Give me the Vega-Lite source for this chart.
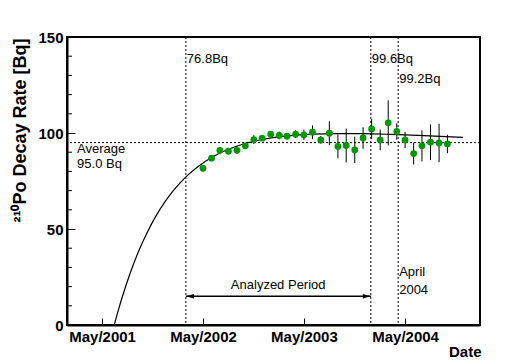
{
  "$schema": "https://vega.github.io/schema/vega-lite/v6.json",
  "width": 413,
  "height": 288,
  "autosize": {"type": "none"},
  "padding": {"left": 67, "top": 37, "right": 40, "bottom": 35},
  "background": "white",
  "config": {
    "view": {"stroke": "black", "strokeWidth": 2},
    "axis": {
      "domainColor": "black", "domainWidth": 2, "tickColor": "black", "tickWidth": 1,
      "labelColor": "black", "titleColor": "black", "grid": false,
      "labelFont": "Liberation Sans", "titleFont": "Liberation Sans",
      "labelFontWeight": "bold", "titleFontWeight": "bold",
      "labelFontSize": 15, "titleFontSize": 15,
      "labelFlush": false, "labelOverlap": false
    }
  },
  "datasets": {
    "points": [
      {"date": "2002-05-01", "rate": 81.6, "lo": 80.1, "hi": 83.1},
      {"date": "2002-06-01", "rate": 86.9, "lo": 85.4, "hi": 88.4},
      {"date": "2002-07-01", "rate": 91.0, "lo": 89.5, "hi": 92.5},
      {"date": "2002-08-01", "rate": 90.5, "lo": 89.0, "hi": 92.0},
      {"date": "2002-09-01", "rate": 91.0, "lo": 89.0, "hi": 93.0},
      {"date": "2002-10-01", "rate": 93.3, "lo": 91.8, "hi": 94.8},
      {"date": "2002-11-01", "rate": 96.6, "lo": 94.3, "hi": 98.9},
      {"date": "2002-12-01", "rate": 97.3, "lo": 95.8, "hi": 98.8},
      {"date": "2003-01-01", "rate": 99.4, "lo": 97.9, "hi": 100.9},
      {"date": "2003-02-01", "rate": 98.7, "lo": 96.7, "hi": 100.7},
      {"date": "2003-03-01", "rate": 98.3, "lo": 96.8, "hi": 99.8},
      {"date": "2003-04-01", "rate": 99.4, "lo": 97.4, "hi": 101.4},
      {"date": "2003-05-01", "rate": 99.0, "lo": 96.3, "hi": 101.7},
      {"date": "2003-06-01", "rate": 100.4, "lo": 96.8, "hi": 104.0},
      {"date": "2003-07-01", "rate": 96.4, "lo": 94.4, "hi": 98.4},
      {"date": "2003-08-01", "rate": 99.9, "lo": 93.7, "hi": 106.1},
      {"date": "2003-09-01", "rate": 93.0, "lo": 86.8, "hi": 99.2},
      {"date": "2003-10-01", "rate": 93.5, "lo": 84.7, "hi": 102.3},
      {"date": "2003-11-01", "rate": 91.2, "lo": 84.3, "hi": 98.1},
      {"date": "2003-12-01", "rate": 97.4, "lo": 91.8, "hi": 103.0},
      {"date": "2004-01-01", "rate": 102.1, "lo": 96.9, "hi": 107.3},
      {"date": "2004-02-01", "rate": 96.4, "lo": 91.0, "hi": 101.8},
      {"date": "2004-03-01", "rate": 105.3, "lo": 93.6, "hi": 117.0},
      {"date": "2004-04-01", "rate": 100.8, "lo": 96.5, "hi": 105.1},
      {"date": "2004-05-01", "rate": 96.4, "lo": 92.2, "hi": 100.6},
      {"date": "2004-06-01", "rate": 89.3, "lo": 83.6, "hi": 95.0},
      {"date": "2004-07-01", "rate": 93.3, "lo": 85.2, "hi": 101.4},
      {"date": "2004-08-01", "rate": 95.2, "lo": 85.9, "hi": 104.5},
      {"date": "2004-09-01", "rate": 94.8, "lo": 84.8, "hi": 104.8},
      {"date": "2004-10-01", "rate": 94.3, "lo": 89.5, "hi": 99.1}
    ],
    "curve": [
      {"date": "2001-06-14", "rate": 0},
      {"date": "2001-06-29", "rate": 7.84},
      {"date": "2001-07-14", "rate": 15.10},
      {"date": "2001-08-13", "rate": 28.01},
      {"date": "2001-09-12", "rate": 39.05},
      {"date": "2001-10-12", "rate": 48.49},
      {"date": "2001-11-11", "rate": 56.56},
      {"date": "2001-12-11", "rate": 63.45},
      {"date": "2002-01-10", "rate": 69.32},
      {"date": "2002-02-09", "rate": 74.32},
      {"date": "2002-03-11", "rate": 78.58},
      {"date": "2002-04-10", "rate": 82.20},
      {"date": "2002-06-09", "rate": 87.88},
      {"date": "2002-08-08", "rate": 91.92},
      {"date": "2002-10-07", "rate": 94.78},
      {"date": "2002-12-06", "rate": 96.75},
      {"date": "2003-02-04", "rate": 98.08},
      {"date": "2003-04-05", "rate": 98.92},
      {"date": "2003-06-04", "rate": 99.43},
      {"date": "2003-08-23", "rate": 99.71},
      {"date": "2003-12-01", "rate": 99.65},
      {"date": "2004-03-10", "rate": 99.30},
      {"date": "2004-06-18", "rate": 98.78},
      {"date": "2004-09-26", "rate": 98.16},
      {"date": "2004-11-26", "rate": 97.76}
    ],
    "vlines": [
      {"date": "2002-02-28"},
      {"date": "2003-12-29"},
      {"date": "2004-04-06"}
    ],
    "minor": [
      {"rate": 10}, {"rate": 20}, {"rate": 30}, {"rate": 40},
      {"rate": 60}, {"rate": 70}, {"rate": 80}, {"rate": 90},
      {"rate": 110}, {"rate": 120}, {"rate": 130}, {"rate": 140}
    ],
    "labels": [
      {"date": "2002-02-28", "rate": 136.4, "text": "76.8Bq"},
      {"date": "2003-12-29", "rate": 136.4, "text": "99.6Bq"},
      {"date": "2004-04-06", "rate": 125.8, "text": "99.2Bq"},
      {"date": "2001-01-27", "rate": 89.6, "text": "Average"},
      {"date": "2001-01-27", "rate": 82.0, "text": "95.0 Bq"},
      {"date": "2004-04-06", "rate": 25.3, "text": "April"},
      {"date": "2004-04-06", "rate": 16.1, "text": "2004"}
    ],
    "period": [
      {"date": "2002-02-28", "date2": "2003-12-29", "rate": 15, "mid": "2003-01-28", "text": "Analyzed Period", "trate": 18.5}
    ],
    "heads": [
      {"date": "2002-02-28", "rate": 15, "dir": "left"},
      {"date": "2003-12-29", "rate": 15, "dir": "right"}
    ]
  },
  "layer": [
    {
      "data": {"name": "points"},
      "mark": {"type": "point", "filled": true, "shape": "circle", "size": 42, "color": "#009900", "opacity": 0},
      "encoding": {
        "x": {
          "field": "date", "type": "temporal",
          "scale": {"type": "utc", "domain": [{"year": 2000, "month": 12, "date": 25, "utc": true}, {"year": 2005, "month": 1, "date": 27, "utc": true}]},
          "axis": {
            "values": [
              {"year": 2001, "month": 5, "date": 1, "utc": true},
              {"year": 2002, "month": 5, "date": 1, "utc": true},
              {"year": 2003, "month": 5, "date": 1, "utc": true},
              {"year": 2004, "month": 5, "date": 1, "utc": true}
            ],
            "format": "%b/%Y",
            "tickSize": -7,
            "labelPadding": 11,
            "labelOverlap": false,
            "labelFlush": false,
            "title": "Date",
            "titleAlign": "right",
            "titleAnchor": "end",
            "titleBaseline": "alphabetic",
            "titleX": 414,
            "titleY": 31
          }
        },
        "y": {
          "field": "rate", "type": "quantitative",
          "scale": {"domain": [0, 150], "nice": false, "zero": false},
          "axis": {
            "values": [0, 50, 100, 150],
            "labelOverlap": false,
            "labelFlush": false,
            "tickSize": -8,
            "labelPadding": 12,
            "title": "²¹⁰Po Decay Rate [Bq]",
            "titleFontSize": 18,
            "titleAngle": -90,
            "titleAlign": "right",
            "titleBaseline": "alphabetic",
            "titleX": -42,
            "titleY": 1
          }
        }
      }
    },
    {
      "data": {"name": "minor"},
      "mark": {"type": "tick", "orient": "horizontal", "size": 5, "thickness": 1, "color": "black", "opacity": 1, "xOffset": 2.5},
      "encoding": {
        "x": {"datum": {"year": 2000, "month": 12, "date": 25, "utc": true}, "type": "temporal"},
        "y": {"field": "rate", "type": "quantitative"}
      }
    },
    {
      "data": {"values": [{"rate": 95}]},
      "mark": {"type": "rule", "color": "black", "strokeWidth": 1, "strokeDash": [2, 2]},
      "encoding": {
        "y": {"field": "rate", "type": "quantitative"}
      }
    },
    {
      "data": {"name": "vlines"},
      "mark": {"type": "rule", "color": "black", "strokeWidth": 1, "strokeDash": [2, 2]},
      "encoding": {
        "x": {"field": "date", "type": "temporal"}
      }
    },
    {
      "data": {"name": "curve"},
      "mark": {"type": "line", "color": "black", "strokeWidth": 1.2, "interpolate": "monotone"},
      "encoding": {
        "x": {"field": "date", "type": "temporal"},
        "y": {"field": "rate", "type": "quantitative"}
      }
    },
    {
      "data": {"name": "points"},
      "mark": {"type": "rule", "color": "black", "strokeWidth": 1},
      "encoding": {
        "x": {"field": "date", "type": "temporal"},
        "y": {"field": "lo", "type": "quantitative"},
        "y2": {"field": "hi"}
      }
    },
    {
      "data": {"name": "points"},
      "mark": {"type": "point", "filled": true, "shape": "circle", "size": 46, "color": "#009900", "opacity": 1},
      "encoding": {
        "x": {"field": "date", "type": "temporal"},
        "y": {"field": "rate", "type": "quantitative"}
      }
    },
    {
      "data": {"name": "labels"},
      "mark": {"type": "text", "align": "left", "baseline": "alphabetic", "dx": 1, "font": "Liberation Sans", "fontSize": 13, "color": "black"},
      "encoding": {
        "x": {"field": "date", "type": "temporal"},
        "y": {"field": "rate", "type": "quantitative"},
        "text": {"field": "text"}
      }
    },
    {
      "data": {"name": "period"},
      "mark": {"type": "text", "align": "center", "baseline": "alphabetic", "font": "Liberation Sans", "fontSize": 13, "color": "black"},
      "encoding": {
        "x": {"field": "mid", "type": "temporal"},
        "y": {"field": "trate", "type": "quantitative"},
        "text": {"field": "text"}
      }
    },
    {
      "data": {"name": "period"},
      "mark": {"type": "rule", "color": "black", "strokeWidth": 1.5},
      "encoding": {
        "x": {"field": "date", "type": "temporal"},
        "x2": {"field": "date2"},
        "y": {"field": "rate", "type": "quantitative"}
      }
    },
    {
      "data": {"name": "heads"},
      "mark": {"type": "point", "filled": true, "size": 64, "color": "black", "opacity": 1},
      "encoding": {
        "x": {"field": "date", "type": "temporal"},
        "y": {"field": "rate", "type": "quantitative"},
        "shape": {"field": "dir", "type": "nominal", "scale": {"domain": ["left", "right"], "range": ["M0,0L2,-0.55L2,0.55Z", "M0,0L-2,-0.55L-2,0.55Z"]}, "legend": null}
      }
    }
  ]
}
